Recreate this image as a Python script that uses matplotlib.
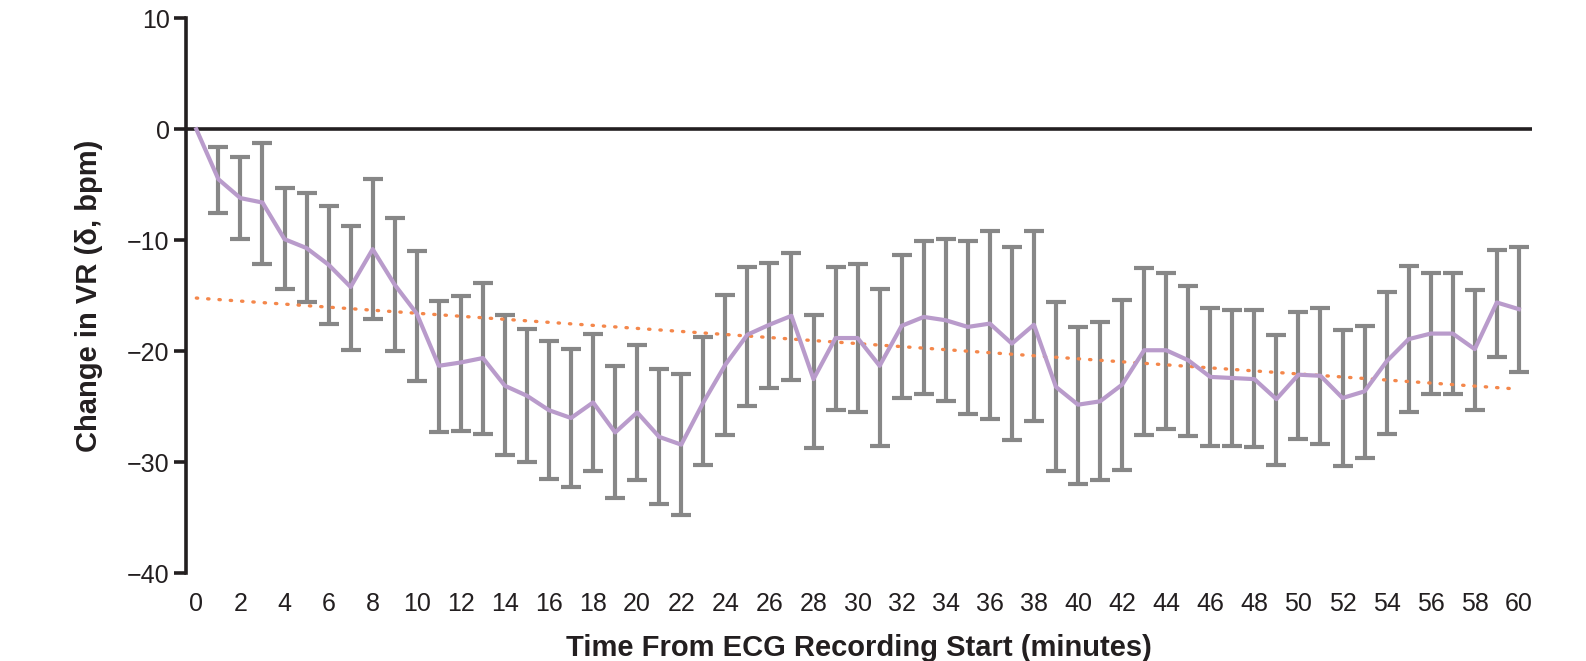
import numpy as np
import matplotlib.pyplot as plt

plt.rcParams['font.family'] = ['Liberation Sans', 'DejaVu Sans']

# minutes from ECG recording start
minutes = np.arange(0, 61)

# mean change in VR (bpm) and error bar ends
mean_change = [0.0, -4.5, -6.2, -6.6, -9.9, -10.7, -12.2, -14.2, -10.8, -14.0,
               -16.6, -21.3, -21.0, -20.6, -23.1, -24.0, -25.3, -26.0, -24.6, -27.3,
               -25.5, -27.7, -28.4, -24.6, -21.2, -18.5, -17.6, -16.8, -22.5, -18.8,
               -18.8, -21.3, -17.7, -16.9, -17.2, -17.8, -17.5, -19.3, -17.6, -23.2,
               -24.8, -24.5, -23.0, -19.9, -19.9, -20.8, -22.3, -22.4, -22.5, -24.3,
               -22.1, -22.2, -24.2, -23.6, -20.9, -18.9, -18.4, -18.4, -19.8, -15.6,
               -16.2]
upper = [0.0, -1.6, -2.5, -1.2, -5.3, -5.7, -6.9, -8.7, -4.5, -8.0,
         -11.0, -15.5, -15.0, -13.8, -16.7, -18.0, -19.1, -19.8, -18.4, -21.3,
         -19.4, -21.6, -22.0, -18.7, -14.9, -12.4, -12.0, -11.1, -16.7, -12.4,
         -12.1, -14.4, -11.3, -10.1, -9.9, -10.1, -9.2, -10.6, -9.2, -15.6,
         -17.8, -17.4, -15.4, -12.5, -12.9, -14.1, -16.1, -16.3, -16.3, -18.5,
         -16.5, -16.1, -18.1, -17.7, -14.7, -12.3, -12.9, -12.9, -14.5, -10.9,
         -10.6]
lower = [0.0, -7.5, -9.9, -12.1, -14.4, -15.6, -17.5, -19.9, -17.1, -20.0,
         -22.7, -27.3, -27.2, -27.4, -29.3, -30.0, -31.5, -32.2, -30.8, -33.2,
         -31.6, -33.7, -34.7, -30.2, -27.5, -24.9, -23.3, -22.6, -28.7, -25.3,
         -25.5, -28.5, -24.2, -23.8, -24.5, -25.6, -26.1, -28.0, -26.3, -30.8,
         -31.9, -31.6, -30.7, -27.5, -27.0, -27.6, -28.5, -28.5, -28.6, -30.2,
         -27.9, -28.3, -30.3, -29.6, -27.4, -25.5, -23.8, -23.8, -25.3, -20.5,
         -21.9]

# linear trend end points
trend_x = [0, 60]
trend_y = [-15.2, -23.4]

mean_change = np.array(mean_change)
yerr = [mean_change - np.array(lower), np.array(upper) - mean_change]

fig = plt.figure(figsize=(15.86, 6.61), dpi=100)
ax = fig.add_axes([0.1174, 0.1324, 0.8486, 0.8401])

# error bars (skip t=0)
ax.errorbar(minutes[1:], mean_change[1:], yerr=[yerr[0][1:], yerr[1][1:]],
            fmt='none', ecolor='#878787', elinewidth=3, capsize=7, capthick=3, zorder=2)
ax.axhline(0, color='#231f20', lw=2.6, zorder=1)
ax.plot(trend_x, trend_y, color='#f4874b', lw=2.4, ls=(0, (0.4, 3.0)),
        dash_capstyle='round', zorder=3)
ax.plot(minutes, mean_change, color='#b99bcb', lw=3, zorder=4)

ax.set_xlim(-0.46, 60.6)
ax.set_ylim(-40, 10)
ax.set_xticks(np.arange(0, 61, 2))
ax.set_yticks([10, 0, -10, -20, -30, -40])
ax.set_yticklabels(['10', '0', '\u221210', '\u221220', '\u221230', '\u221240'])

for s in ['top', 'right', 'bottom']:
    ax.spines[s].set_visible(False)
ax.spines['left'].set_linewidth(2.6)
ax.spines['left'].set_color('#231f20')
ax.tick_params(axis='y', length=9, width=2.6, color='#231f20', labelsize=18, pad=3,
               labelcolor='#231f20')
ax.tick_params(axis='x', length=0, labelsize=18, pad=13, labelcolor='#231f20')

ax.set_xlabel('Time From ECG Recording Start (minutes)', fontsize=21, fontweight='bold',
              labelpad=13, color='#231f20')
ax.set_ylabel('Change in VR (\u03b4, bpm)', fontsize=21, fontweight='bold', labelpad=17,
              color='#231f20')

fig.savefig('out.png', dpi=100)
